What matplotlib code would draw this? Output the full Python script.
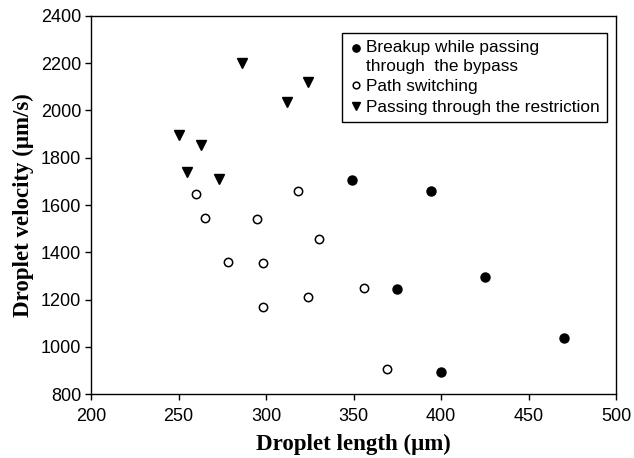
import matplotlib
matplotlib.use("Agg")
import matplotlib.pyplot as plt
from matplotlib.legend_handler import HandlerLine2D

# Breakup while passing through the bypass (filled circles)
breakup_x = [349, 394, 375, 425, 470, 400]
breakup_y = [1705, 1658, 1245, 1295, 1040, 895]

# Path switching (open circles)
switch_x = [260, 318, 265, 295, 330, 278, 298, 356, 324, 298, 369]
switch_y = [1645, 1658, 1545, 1540, 1455, 1357, 1355, 1250, 1210, 1170, 908]

# Passing through the restriction (triangles)
restr_x = [286, 324, 312, 250, 263, 255, 273]
restr_y = [2200, 2120, 2035, 1895, 1855, 1740, 1710]

xticks = [200, 250, 300, 350, 400, 450, 500]
yticks = [800, 1000, 1200, 1400, 1600, 1800, 2000, 2200, 2400]


class TopLineHandler(HandlerLine2D):
    """Place the legend marker next to the first line of a two-line label."""
    def __init__(self, shift, **kw):
        super().__init__(**kw)
        self.shift = shift

    def create_artists(self, legend, orig_handle, xdescent, ydescent,
                       width, height, fontsize, trans):
        arts = super().create_artists(legend, orig_handle, xdescent, ydescent,
                                      width, height, fontsize, trans)
        for a in arts:
            a.set_ydata([y + self.shift for y in a.get_ydata()])
        return arts


plt.rcParams['font.family'] = ['Liberation Sans', 'DejaVu Sans']

fig = plt.figure(figsize=(6.34, 4.58), dpi=100)
ax = fig.add_axes([91/634, 1-394.3/458, (616-91)/634, (394.3-15.7)/458])

h1, = ax.plot(breakup_x, breakup_y, linestyle='none', marker='o', markersize=6.5,
              markerfacecolor='black', markeredgecolor='black',
              label='Breakup while passing\nthrough  the bypass')
ax.plot(switch_x, switch_y, linestyle='none', marker='o', markersize=6,
        markerfacecolor='white', markeredgecolor='black', markeredgewidth=1.1,
        label='Path switching')
ax.plot(restr_x, restr_y, linestyle='none', marker='v', markersize=7,
        markerfacecolor='black', markeredgecolor='black',
        label='Passing through the restriction')

ax.set_xlim(200, 500)
ax.set_ylim(800, 2400)
ax.set_xticks(xticks)
ax.set_yticks(yticks)
ax.tick_params(direction='out', length=4, width=1, labelsize=13, colors='black')
ax.tick_params(axis='x', pad=6)
ax.tick_params(axis='y', pad=3)
for s in ax.spines.values():
    s.set_linewidth(1)

ax.set_xlabel('Droplet length (μm)', fontsize=16.5, fontweight='bold',
              family=['Liberation Serif', 'DejaVu Serif'], labelpad=6)
ax.set_ylabel('Droplet velocity (μm/s)', fontsize=16.5, fontweight='bold',
              family=['Liberation Serif', 'DejaVu Serif'], labelpad=5)

leg = ax.legend(loc='upper right', bbox_to_anchor=(0.9835, 0.955), fontsize=12.4,
                frameon=True, fancybox=False, edgecolor='black', framealpha=1,
                handlelength=0.73, handletextpad=0.22, borderpad=0.45,
                labelspacing=0.3, markerscale=0.8, borderaxespad=0,
                handler_map={h1: TopLineHandler(shift=7.0)})
leg.get_frame().set_linewidth(1)
for t in leg.get_texts():
    t.set_linespacing(1.3)

fig.savefig('out.png', dpi=100)
